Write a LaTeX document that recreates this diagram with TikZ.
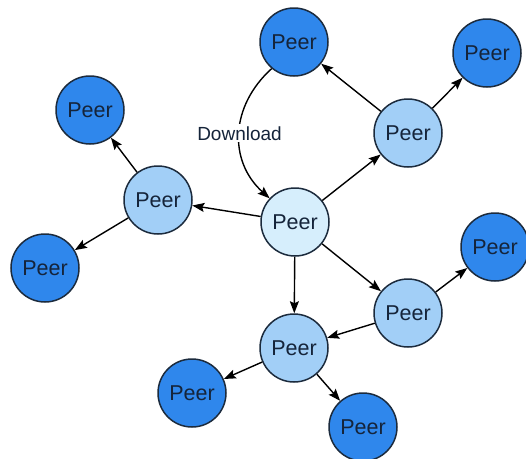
\documentclass[tikz,border=0pt]{standalone}
\usepackage{fontspec}
\setmainfont{Liberation Sans}
\usetikzlibrary{arrows.meta}
\definecolor{peerdark}{HTML}{2F87EC}
\definecolor{peermid}{HTML}{A2CFF7}
\definecolor{peerlight}{HTML}{D6EEFC}
\definecolor{rim}{HTML}{1C2B3D}
\definecolor{ink}{HTML}{15243A}
\tikzset{
  peer/.style={circle, draw=rim, line width=1.5pt, minimum size=68pt, inner sep=0pt,
    text=ink, font=\fontsize{21.5}{24}\selectfont},
  seed/.style={peer, fill=peerdark},
  relay/.style={peer, fill=peermid},
  origin/.style={peer, fill=peerlight},
  link/.style={line width=1.4pt, -{Stealth[length=12pt, width=9pt, inset=2pt]}},
}
\begin{document}
\begin{tikzpicture}[x=1pt, y=1pt]
\useasboundingbox (0,0) rectangle (526,-458);
% peers
\node[origin] (c)  at (295,-222) {Peer};
\node[seed]   (t)  at (294,-42)  {Peer};
\node[seed]   (tr) at (487,-53)  {Peer};
\node[relay]  (ru) at (408,-133) {Peer};
\node[seed]   (ul) at (90,-110)  {Peer};
\node[relay]  (lm) at (158,-200) {Peer};
\node[seed]   (ll) at (45,-268)  {Peer};
\node[seed]   (fr) at (495,-247) {Peer};
\node[relay]  (rl) at (408,-313) {Peer};
\node[relay]  (lo) at (294,-348) {Peer};
\node[seed]   (bl) at (192,-393) {Peer};
\node[seed]   (bo) at (363,-427) {Peer};
% connections
\draw[link] (c) -- (ru);
\draw[link] (ru) -- (t);
\draw[link] (ru) -- (tr);
\draw[link] (c) -- (lm);
\draw[link] (lm) -- (ul);
\draw[link] (lm) -- (ll);
\draw[link] (c) -- (rl);
\draw[link] (c) -- (lo);
\draw[link] (rl) -- (fr);
\draw[link] (rl) -- (lo);
\draw[link] (lo) -- (bl);
\draw[link] (lo) -- (bo);
% download path
\draw[link] (t.230) to[out=222, in=138, looseness=1.1]
  node[fill=white, inner sep=2pt, font=\fontsize{19}{22}\selectfont, text=ink] {Download} (c.137);
\end{tikzpicture}
\end{document}
